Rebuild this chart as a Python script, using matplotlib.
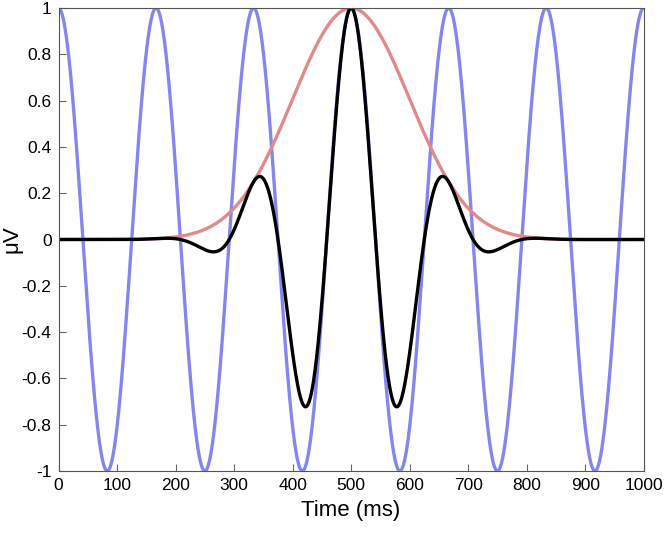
import numpy as np
import matplotlib.pyplot as plt

# wavelet parameters
freq_hz = 6.0          # cosine peaks every ~167 ms
center_ms = 500.0      # gaussian centre
sigma_ms = 100.0       # gaussian width
t_start, t_stop = 0, 1000

xticks = [0, 100, 200, 300, 400, 500, 600, 700, 800, 900, 1000]
yticks = [-1, -0.8, -0.6, -0.4, -0.2, 0, 0.2, 0.4, 0.6, 0.8, 1]
ytick_labels = ['-1', '-0.8', '-0.6', '-0.4', '-0.2', '0', '0.2', '0.4', '0.6', '0.8', '1']

t = np.linspace(t_start, t_stop, 2001)
sine = np.cos(2 * np.pi * freq_hz * t / 1000)
gauss = np.exp(-(t - center_ms) ** 2 / (2 * sigma_ms ** 2))
wavelet = sine * gauss

plt.rcParams['font.family'] = ['Liberation Sans', 'DejaVu Sans']
fig = plt.figure(figsize=(6.65, 5.37), dpi=100)
ax = fig.add_axes([0.088, 0.123, 0.880, 0.862])

ax.plot(t, sine, color='#8585ee', lw=2.4)
ax.plot(t, gauss, color='#e08a8a', lw=2.4)
ax.plot(t, wavelet, color='black', lw=2.4)

ax.set_xlim(t_start, t_stop)
ax.set_ylim(-1, 1)
ax.set_xticks(xticks)
ax.set_yticks(yticks)
ax.set_yticklabels(ytick_labels)
ax.tick_params(direction='in', length=5, labelsize=12.5, color='#666666', pad=5)
for s in ax.spines.values():
    s.set_color('#555555')
ax.set_xlabel('Time (ms)', fontsize=16, labelpad=5)
ax.set_ylabel('μV', fontsize=16)
ax.yaxis.set_label_coords(-0.062, 0.5)

fig.savefig('out.png', dpi=100)
